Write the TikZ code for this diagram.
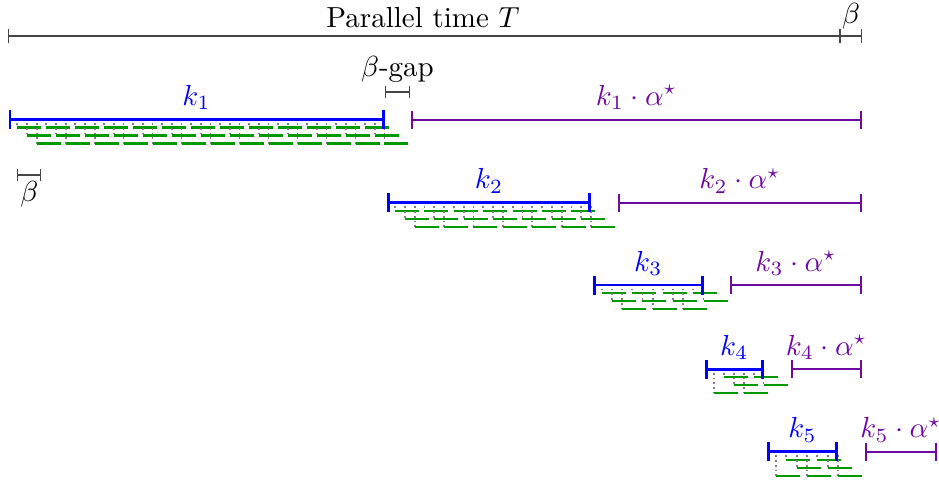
\documentclass[tikz,border=0pt]{standalone}
\usepackage{graphicx}
\usetikzlibrary{arrows.meta,calc}
\definecolor{kblue}{RGB}{0,0,255}
\definecolor{kpurple}{RGB}{110,10,160}
\definecolor{jobgreen}{RGB}{0,153,0}
\definecolor{rulegray}{RGB}{70,70,70}
\newcommand{\bigtxt}[1]{\scalebox{2.9}{#1}}
\tikzset{
  lbl/.style={inner sep=0pt, anchor=base},
  kbar/.style={draw=kblue, line width=2.6pt, {Bar[width=19pt]}-{Bar[width=19pt]}},
  abar/.style={draw=kpurple, line width=2pt, {Bar[width=18pt]}-{Bar[width=18pt]}},
  rulebar/.style={draw=rulegray, line width=1.1pt, {Bar[width=14pt]}-{Bar[width=14pt]}},
  smallbar/.style={draw=rulegray, line width=1.1pt, {Bar[width=12pt]}-{Bar[width=12pt]}},
  jobdot/.style={draw=gray, line width=1.8pt, dash pattern=on 1.8pt off 3pt},
  job/.style={draw=jobgreen, line width=2.3pt},
}
\newcommand{\jobset}[5]{%
  \foreach \i in {0,...,#4}{%
    \pgfmathsetmacro{\jx}{#2+#3*\i}%
    \pgfmathtruncatemacro{\jr}{mod(\i+#5,3)+1}%
    \draw[jobdot] (\jx,#1+3.5) -- (\jx,#1+8*\jr);
    \draw[job] (\jx,#1+8*\jr) -- ++(24,0);
  }}
\begin{document}
\begin{tikzpicture}[x=1pt,y=-1pt]
\useasboundingbox (0,0) rectangle (939,482);
% top rule
\coordinate (T0) at (8,36); \coordinate (T1) at (840,36); \coordinate (T2) at (862,36);
\draw[rulebar] (T0) -- (T1);
\draw[rulebar] (T1) -- (T2);
\node[lbl] (tlab) at (423,27.5) {\bigtxt{Parallel time $T$}};
\node[lbl] (tbeta) at (851,23) {\bigtxt{$\beta$}};
% beta-gap
\coordinate (G0) at (385,92); \coordinate (G1) at (410,92);
\draw[smallbar] (G0) -- (G1);
\node[lbl] (glab) at (397.5,76.7) {\bigtxt{$\beta$-gap}};
% small beta
\coordinate (B0) at (17.3,175); \coordinate (B1) at (41.3,175);
\draw[smallbar] (B0) -- (B1);
\node[lbl] (blab) at (29.3,201) {\bigtxt{$\beta$}};
% jobs
\jobset{119.5}{17.3}{9.663}{38}{0}
\jobset{202.7}{395}{9.8}{20}{0}
\jobset{285}{601.7}{10.18}{10}{0}
\jobset{369.3}{714}{9.9}{5}{2}
\jobset{451.7}{776}{10.33}{6}{2}
% blue bars
\coordinate (k1s) at (8.5,119.5); \coordinate (k1e) at (384.5,119.5);
\coordinate (k2s) at (387,202.7); \coordinate (k2e) at (591,202.7);
\coordinate (k3s) at (593,285); \coordinate (k3e) at (703.5,285);
\coordinate (k4s) at (705,369.3); \coordinate (k4e) at (763.5,369.3);
\coordinate (k5s) at (767,451.7); \coordinate (k5e) at (838,451.7);
\foreach \k in {1,...,5}{\draw[kbar] (k\k s) -- (k\k e);}
% purple bars
\coordinate (a1s) at (411,119.5); \coordinate (a1e) at (862,119.5);
\coordinate (a2s) at (618,202.7); \coordinate (a2e) at (862,202.7);
\coordinate (a3s) at (730,285); \coordinate (a3e) at (862,285);
\coordinate (a4s) at (791,369.3); \coordinate (a4e) at (862,369.3);
\coordinate (a5s) at (865,451.7); \coordinate (a5e) at (937,451.7);
\foreach \k in {1,...,5}{\draw[abar] (a\k s) -- (a\k e);}
% labels
\foreach \k in {1,...,5}{
  \node[lbl, text=kblue, yshift=14pt] (kl\k) at ($(k\k s)!0.5!(k\k e)$) {\bigtxt{$k_{\k}$}};
  \node[lbl, text=kpurple, yshift=14pt] (al\k) at ($(a\k s)!0.5!(a\k e)$) {\bigtxt{$k_{\k}\cdot\alpha^{\star}$}};
}
\end{tikzpicture}
\end{document}
